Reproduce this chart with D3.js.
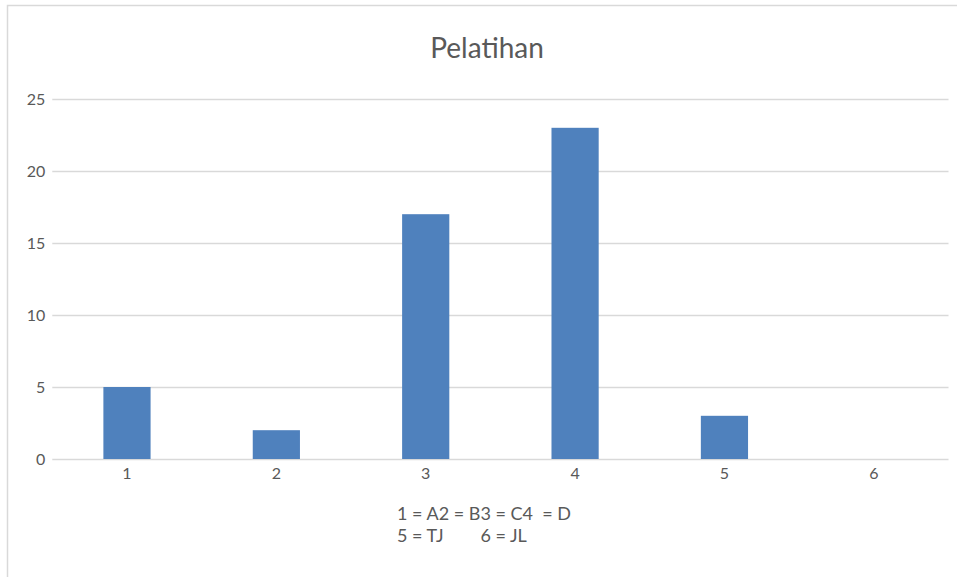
<!DOCTYPE html>
<html>
<head>
<meta charset="utf-8">
<script src="https://cdn.jsdelivr.net/npm/d3@7"></script>
<style>
  html, body { margin: 0; padding: 0; background: #fff; }
  svg { display: block; font-family: Lato, "Open Sans", sans-serif; }
</style>
</head>
<body>
<svg id="chart" width="957" height="577"></svg>
<script>
// Training counts per category
const categories = ["1", "2", "3", "4", "5", "6"];
const values = [5, 2, 17, 23, 3, 0];
const yTicks = [0, 5, 10, 15, 20, 25];
const title = "Pelatihan";
const legendLines = ["1 = A2 = B3 = C4  = D", "5 = TJ        6 = JL"];

const svg = d3.select("#chart");
const W = 957, H = 577;
const plot = { left: 52.3, right: 948.5, top: 99, bottom: 459 };

// outer frame (open on right and bottom)
svg.append("path")
  .attr("d", `M7.5,${H} L7.5,5.5 L${W},5.5`)
  .attr("fill", "none")
  .attr("stroke", "#d9d9d9")
  .attr("stroke-width", 1.5);

const x = d3.scaleBand()
  .domain(categories)
  .range([plot.left, plot.right])
  .paddingInner(0.684)
  .paddingOuter(0.342);

const y = d3.scaleLinear()
  .domain([0, 25])
  .range([plot.bottom, plot.top]);

// horizontal gridlines + y labels
const yAxis = d3.axisLeft(y).tickValues(yTicks).tickSize(-(plot.right - plot.left)).tickPadding(7);
const gy = svg.append("g")
  .attr("transform", `translate(${plot.left},0)`)
  .call(yAxis);
gy.select(".domain").remove();
gy.selectAll(".tick line").attr("stroke", "#d9d9d9").attr("stroke-width", 1.3);
gy.selectAll(".tick text")
  .attr("fill", "#595959")
  .attr("font-size", 16)
  .attr("font-family", "Lato, sans-serif");

// bars
const rows = categories.map((c, i) => ({ c, v: values[i] }));
svg.append("g").selectAll("rect")
  .data(rows)
  .join("rect")
  .attr("x", d => x(d.c))
  .attr("width", x.bandwidth())
  .attr("y", d => y(d.v))
  .attr("height", d => y(0) - y(d.v))
  .attr("fill", "#4f81bd");

// x labels
const xAxis = d3.axisBottom(x).tickSize(0).tickPadding(9);
const gx = svg.append("g")
  .attr("transform", `translate(0,${plot.bottom})`)
  .call(xAxis);
gx.select(".domain").remove();
gx.selectAll(".tick text")
  .attr("fill", "#595959")
  .attr("font-size", 16)
  .attr("font-family", "Lato, sans-serif");

// title
svg.append("text")
  .attr("x", 487)
  .attr("y", 58)
  .attr("text-anchor", "middle")
  .attr("fill", "#595959")
  .attr("font-size", 28)
  .text(title);

// category key below the axis
svg.append("g").selectAll("text")
  .data(legendLines)
  .join("text")
  .attr("x", 397)
  .attr("y", (d, i) => 520 + i * 22)
  .attr("fill", "#595959")
  .attr("font-size", 18)
  .style("white-space", "pre")
  .attr("xml:space", "preserve")
  .text(d => d);
</script>
</body>
</html>
